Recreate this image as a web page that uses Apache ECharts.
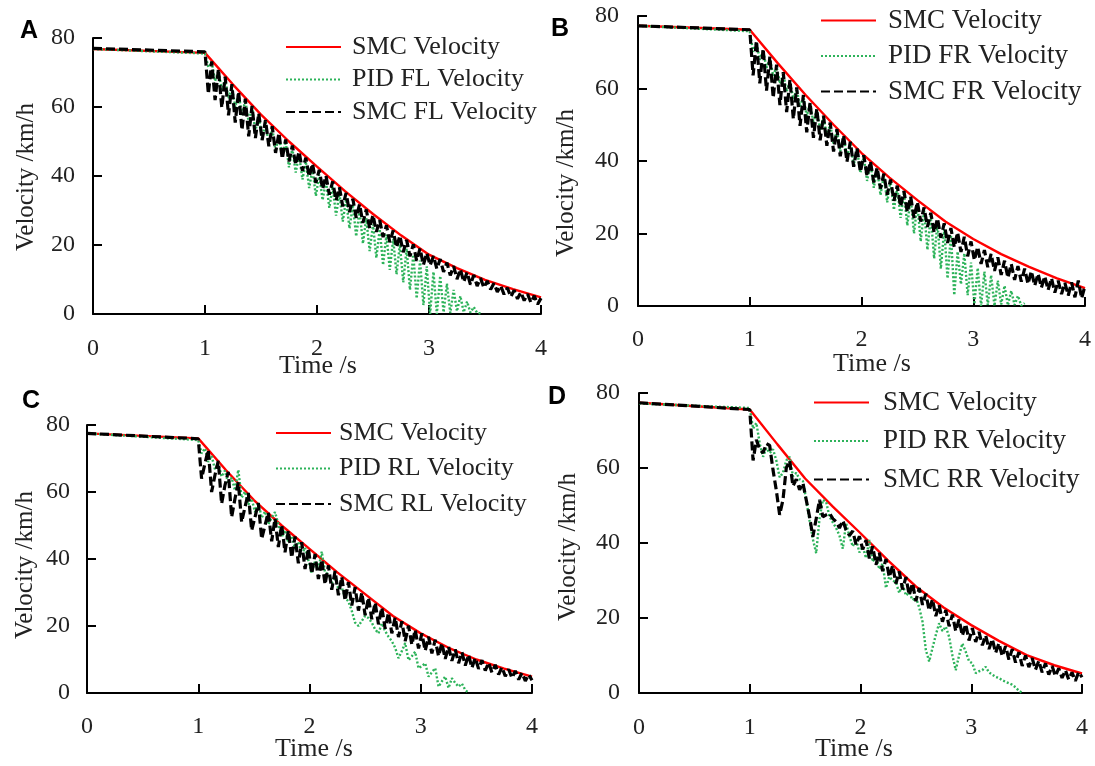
<!DOCTYPE html>
<html>
<head>
<meta charset="utf-8">
<script src="https://cdn.jsdelivr.net/npm/echarts@6/dist/echarts.min.js"></script>
<style>
  html, body { margin: 0; background: #fff; }
  #chart { width: 1095px; height: 766px; }
</style>
</head>
<body>
<div id="chart"></div>
<script>
// time (s) for the smooth reference curve
const timeRed = [0, 1, 1.25, 1.5, 1.75, 2, 2.25, 2.5, 2.75, 3, 3.25, 3.5, 3.75, 4];
// time (s) for the wheel curves (PID curves use the first part only)
const timeWheel = [0, 1.00, 1.03, 1.06, 1.09, 1.12, 1.15, 1.18, 1.21, 1.24, 1.27, 1.30, 1.33, 1.36, 1.39, 1.42, 1.45, 1.48,
  1.51, 1.54, 1.57, 1.60, 1.63, 1.66, 1.69, 1.72, 1.75, 1.78, 1.81, 1.84, 1.87, 1.90, 1.93, 1.96, 1.99, 2.02, 2.05, 2.08,
  2.11, 2.14, 2.17, 2.20, 2.23, 2.26, 2.29, 2.32, 2.35, 2.38, 2.41, 2.44, 2.47, 2.50, 2.53, 2.56, 2.59, 2.62, 2.65, 2.68,
  2.71, 2.74, 2.77, 2.80, 2.83, 2.86, 2.89, 2.92, 2.95, 2.98, 3.01, 3.04, 3.07, 3.10, 3.13, 3.16, 3.19, 3.22, 3.25, 3.28,
  3.31, 3.34, 3.37, 3.40, 3.43, 3.46, 3.49, 3.52, 3.55, 3.58, 3.61, 3.64, 3.67, 3.70, 3.73, 3.76, 3.79, 3.82, 3.85, 3.88,
  3.91, 3.94, 3.97, 4.00];
const yTicks = [0, 20, 40, 60, 80];
const xTicks = [0, 1, 2, 3, 4];

// A - front left
const smcA = [76.8, 75.7, 66.5, 57.8, 50, 42.7, 35.6, 29, 22.8, 17.2, 13.3, 9.9, 7.2, 4.8];
const pidFL = [76.8,
  75.5, 71.5, 73.0, 67.5, 70.5, 65.0, 68.0, 62.5, 66.0, 60.0,
  64.0, 57.5, 62.0, 55.5, 60.0, 53.0, 57.6, 50.3, 56.0, 48.8,
  54.0, 47.1, 52.0, 45.3, 50.0, 42.5, 48.0, 41.0, 46.2, 39.0,
  44.2, 36.5, 42.0, 34.2, 40.4, 33.0, 38.6, 30.8, 37.0, 28.5,
  35.0, 26.8, 33.2, 24.8, 31.6, 22.5, 30.0, 20.4, 27.8, 18.2,
  26.0, 16.3, 24.6, 14.2, 23.0, 12.8, 21.8, 11.5, 20.2, 9.2,
  19.0, 7.0, 17.2, 4.5, 15.5, 2.6, 13.8, 0.0, 12.2, 0.0,
  11.0, 0.5, 8.8, 0.3, 7.0, 0.8, 5.2, 0.5, 3.6, 0.4,
  2.0, 0.3, 0.2];
const smcFL = [77.0,
  76.0, 63.8, 73.2, 62.0, 71.0, 59.8, 68.8, 57.6, 66.6, 55.5,
  64.5, 53.3, 62.4, 51.5, 60.3, 51.0, 58.2, 50.4, 56.2, 48.6,
  54.4, 46.7, 52.5, 45.0, 50.6, 44.2, 48.8, 43.3, 47.1, 41.5,
  45.3, 39.8, 43.6, 38.0, 41.8, 36.3, 40.1, 34.6, 38.4, 32.9,
  36.7, 31.2, 35.1, 29.5, 33.4, 27.9, 31.8, 26.4, 30.3, 24.8,
  28.7, 23.8, 27.2, 22.3, 25.7, 20.8, 24.2, 19.3, 22.7, 17.9,
  21.5, 16.7, 20.2, 15.4, 19.0, 14.2, 17.7, 14.1, 16.8, 13.1,
  15.9, 12.2, 14.9, 11.2, 13.9, 10.1, 13.0, 9.3, 12.1, 8.5,
  11.3, 8.1, 10.4, 7.6, 9.6, 7.1, 8.9, 6.4, 8.2, 5.7,
  7.6, 5.0, 6.9, 4.4, 6.3, 3.9, 5.8, 3.3, 5.3, 2.8,
  4.6];

// B - front right
const smcB = [77.3, 76.2, 67, 58.2, 50, 42.2, 35.4, 29.2, 23.3, 18.5, 14.3, 10.8, 7.6, 4.9];
const pidFR = [77.3,
  75.8, 70.1, 72.7, 67.9, 70.5, 65.7, 68.3, 63.5, 66.1, 61.3,
  64.0, 59.2, 61.9, 57.1, 59.8, 55.0, 57.7, 52.4, 56.0, 50.4,
  54.2, 48.4, 52.3, 46.5, 50.4, 44.5, 48.6, 42.7, 46.9, 40.7,
  45.1, 38.8, 43.4, 36.7, 41.3, 34.5, 39.6, 32.6, 37.9, 30.6,
  36.2, 28.6, 34.5, 26.5, 32.8, 24.3, 31.3, 22.2, 29.9, 20.0,
  28.2, 17.8, 26.5, 15.5, 24.8, 13.1, 23.0, 10.3, 21.2, 7.6,
  19.6, 3.0, 15.0, 6.0, 14.5, 3.0, 12.0, 0.5, 10.5, 0.0,
  9.5, 0.3, 8.5, 0.0, 7.0, 0.4, 5.6, 0.2, 4.2, 0.3,
  2.8, 0.1, 0.8];
const smcFR = [77.3,
  76.2, 63.6, 73.2, 61.4, 71.0, 59.4, 68.8, 57.4, 66.6, 55.4,
  64.5, 53.5, 62.4, 51.6, 60.3, 49.7, 58.2, 47.9, 56.2, 46.4,
  54.4, 45.7, 52.5, 44.2, 50.6, 42.6, 48.8, 41.3, 47.1, 39.8,
  45.3, 38.4, 43.6, 37.0, 41.6, 35.8, 39.9, 34.1, 38.2, 32.4,
  36.5, 30.7, 34.9, 29.0, 33.2, 27.4, 31.7, 25.9, 30.2, 24.3,
  28.7, 23.3, 27.2, 21.8, 25.7, 20.3, 24.2, 18.8, 22.8, 17.4,
  21.5, 16.2, 20.3, 14.9, 19.1, 13.7, 17.8, 12.6, 16.3, 11.6,
  15.4, 10.7, 14.4, 9.7, 13.4, 8.6, 12.5, 7.8, 11.6, 7.2,
  11.0, 6.7, 10.3, 6.1, 9.6, 5.6, 8.9, 5.1, 8.2, 4.4,
  7.7, 3.7, 7.0, 3.3, 6.4, 2.9, 6.5, 2.4, 7.0, 2.1,
  5.6];

// C - rear left
const smcC = [77.5, 76, 66.5, 57.6, 50, 43, 36, 29.5, 23, 17.8, 13.5, 10, 7.3, 4.9];
const pidRL = [77.5,
  75.5, 71.5, 73.0, 69.0, 70.8, 66.8, 68.6, 64.6, 66.4, 62.5,
  64.3, 60.5, 66.6, 58.3, 60.1, 56.2, 58.0, 54.0, 57.0, 52.3,
  54.2, 50.4, 52.3, 54.0, 50.4, 46.6, 48.6, 44.9, 46.9, 43.1,
  45.1, 41.4, 43.4, 39.6, 35.8, 39.5, 37.0, 42.2, 36.0, 35.5,
  32.8, 34.5, 31.0, 31.5, 28.5, 27.3, 24.5, 21.0, 20.0, 21.5,
  23.0, 22.4, 21.0, 19.0, 17.8, 20.8, 18.5, 16.8, 15.5, 13.5,
  10.4, 12.5, 14.9, 9.8, 11.0, 12.3, 7.4, 8.0, 8.9, 4.9,
  6.2, 7.4, 1.9, 3.5, 4.9, 1.5, 4.4, 3.0, 1.9, 2.8,
  0.9, 0.0];
const smcRL = [77.5,
  75.9, 64.0, 68.5, 72.6, 60.0, 65.0, 69.3, 56.5, 62.0, 66.0,
  52.5, 58.0, 62.9, 51.0, 55.5, 59.7, 48.5, 52.5, 56.7, 46.0,
  50.0, 53.9, 45.3, 52.1, 43.6, 50.2, 42.0, 48.5, 40.4, 46.7,
  38.7, 45.0, 37.0, 43.2, 35.6, 41.5, 34.0, 39.8, 32.4, 38.1,
  30.8, 36.4, 29.2, 34.7, 27.6, 33.1, 26.1, 31.6, 24.6, 30.0,
  23.2, 28.5, 22.0, 27.0, 20.5, 25.5, 19.2, 24.0, 17.8, 22.6,
  16.7, 21.4, 15.5, 20.1, 14.4, 18.9, 13.3, 17.8, 12.6, 16.8,
  11.8, 15.9, 11.0, 14.9, 10.2, 13.8, 9.6, 13.0, 8.9, 12.2,
  8.2, 11.4, 7.5, 10.5, 7.2, 9.8, 6.7, 9.1, 6.1, 8.4,
  5.5, 7.7, 5.0, 7.1, 4.5, 6.6, 4.0, 6.0, 3.6, 5.5,
  3.8];

// D - rear right
const smcD = [77.4, 75.6, 66.3, 57.2, 49.7, 42.6, 35.3, 28.4, 22.8, 18.1, 13.9, 10.1, 7.4, 5.2];
const pidRR = [77.2,
  76.0, 70.5, 72.0, 66.5, 63.0, 65.3, 64.0, 65.0, 62.0, 57.5,
  58.7, 62.0, 63.0, 57.8, 58.7, 57.0, 56.5, 51.5, 46.0, 41.0,
  37.3, 46.5, 51.5, 51.0, 47.0, 45.5, 44.0, 42.0, 38.5, 45.3,
  41.8, 39.1, 41.0, 37.5, 39.0, 36.0, 40.8, 35.0, 36.5, 33.0,
  34.5, 28.0, 31.0, 30.0, 29.5, 26.7, 29.0, 26.0, 26.8, 24.8,
  25.5, 22.8, 19.0, 11.5, 8.4, 12.0, 15.5, 18.6, 16.5, 17.7,
  15.0, 10.0, 6.1, 10.0, 13.2, 11.0, 8.5, 7.9, 5.3, 5.8,
  6.1, 7.0, 5.5, 4.9, 4.3, 4.0, 3.4, 3.0, 2.6, 2.2,
  1.5, 0.6, 0.0];
const smcRR = [77.4,
  75.6, 62.0, 67.5, 65.0, 64.0, 66.5, 66.0, 59.5, 54.0, 47.5,
  51.5, 60.0, 62.0, 55.2, 57.0, 54.2, 56.0, 51.5, 47.0, 41.7,
  46.5, 51.5, 47.0, 47.5, 47.9, 46.5, 45.7, 44.0, 46.0, 43.5,
  42.0, 43.2, 39.5, 41.8, 38.3, 40.8, 35.9, 39.1, 34.2, 37.4,
  32.5, 35.7, 30.9, 34.0, 29.2, 32.4, 27.6, 30.9, 26.1, 29.3,
  24.5, 28.0, 23.5, 26.5, 22.0, 25.0, 20.5, 23.5, 19.0, 22.1,
  17.8, 20.9, 16.5, 19.6, 15.3, 18.4, 14.0, 17.3, 13.6, 16.3,
  12.7, 15.4, 11.7, 14.4, 10.7, 13.3, 9.8, 12.5, 8.9, 11.7,
  8.1, 10.9, 7.2, 10.0, 6.9, 9.3, 6.2, 8.6, 5.5, 7.9,
  4.9, 7.2, 4.5, 6.6, 4.0, 6.1, 3.6, 5.5, 3.2, 5.6,
  4.2];

const serif = '"Liberation Serif", "Times New Roman", serif';
const zip = (ts, vs) => vs.map((v, i) => [ts[i], v]);

const panels = [
  { letter: 'A', wheel: 'FL', smc: smcA, pid: pidFL, wheelSmc: smcFL,
    grid: { left: 93, top: 38, width: 448, height: 276 }, xMargin: 23, yMargin: 18,
    legend: { left: 280, top: 29, gap: 6.5, pad: 6, size: 26 },
    letterPos: [29, 31], yNamePos: [26, 177], xNamePos: [318, 366] },
  { letter: 'B', wheel: 'FR', smc: smcB, pid: pidFR, wheelSmc: smcFR,
    grid: { left: 638, top: 16, width: 447, height: 290 }, xMargin: 22, yMargin: 19,
    legend: { left: 815, top: 2, gap: 8.5, pad: 7, size: 27 },
    letterPos: [560, 29], yNamePos: [566, 183], xNamePos: [872, 364] },
  { letter: 'C', wheel: 'RL', smc: smcC, pid: pidRL, wheelSmc: smcRL,
    grid: { left: 87, top: 425, width: 445, height: 268 }, xMargin: 22, yMargin: 17,
    legend: { left: 270, top: 415, gap: 9.5, pad: 3, size: 26 },
    letterPos: [31, 401], yNamePos: [25, 565], xNamePos: [314, 749] },
  { letter: 'D', wheel: 'RR', smc: smcD, pid: pidRR, wheelSmc: smcRR,
    grid: { left: 639, top: 393, width: 443, height: 300 }, xMargin: 23, yMargin: 19,
    legend: { left: 808, top: 384, gap: 11.5, pad: 9, size: 27 },
    letterPos: [557, 397], yNamePos: [568, 547], xNamePos: [854, 749] },
];

const axisLine = { show: true, lineStyle: { color: '#000', width: 2 } };
const axisTick = { show: true, inside: true, length: 9, lineStyle: { color: '#000', width: 2 } };

const option = {
  animation: false,
  backgroundColor: '#fff',
  grid: panels.map(p => p.grid),
  xAxis: panels.map((p, i) => ({
    type: 'value', gridIndex: i, min: xTicks[0], max: xTicks[xTicks.length - 1], interval: 1,
    axisLine, axisTick, splitLine: { show: false },
    axisLabel: { fontFamily: serif, fontSize: 24, color: '#222', margin: p.xMargin },
  })),
  yAxis: panels.map((p, i) => ({
    type: 'value', gridIndex: i, min: yTicks[0], max: yTicks[yTicks.length - 1], interval: 20,
    axisLine, axisTick, splitLine: { show: false },
    axisLabel: { fontFamily: serif, fontSize: 24, color: '#222', margin: p.yMargin },
  })),
  legend: panels.map(p => ({
    orient: 'vertical', left: p.legend.left, top: p.legend.top, itemGap: p.legend.gap,
    itemWidth: 55, itemHeight: 14, selectedMode: false,
    itemStyle: { opacity: 0 },
    data: ['SMC Velocity', 'PID ' + p.wheel + ' Velocity', 'SMC ' + p.wheel + ' Velocity'],
    textStyle: { fontFamily: serif, fontSize: p.legend.size, lineHeight: p.legend.size,
      color: '#222', padding: [0, 0, 0, p.legend.pad] },
  })),
  series: panels.flatMap((p, i) => [
    { type: 'line', name: 'SMC Velocity', xAxisIndex: i, yAxisIndex: i, symbol: 'none',
      data: zip(timeRed, p.smc), itemStyle: { color: '#ff0000' },
      lineStyle: { color: '#ff0000', width: 2.4 } },
    { type: 'line', name: 'PID ' + p.wheel + ' Velocity', xAxisIndex: i, yAxisIndex: i, symbol: 'none',
      data: zip(timeWheel, p.pid), itemStyle: { color: '#2db35a' },
      lineStyle: { color: '#2db35a', width: 2.4, type: [2, 2] } },
    { type: 'line', name: 'SMC ' + p.wheel + ' Velocity', xAxisIndex: i, yAxisIndex: i, symbol: 'none',
      data: zip(timeWheel, p.wheelSmc), itemStyle: { color: '#000' },
      lineStyle: { color: '#000', width: 3.2, type: [9, 4] } },
  ]),
  graphic: panels.flatMap(p => [
    { type: 'text', x: p.letterPos[0], y: p.letterPos[1],
      style: { text: p.letter, font: 'bold 25px "Liberation Sans", Arial, sans-serif', fill: '#000',
        align: 'center', verticalAlign: 'middle' } },
    { type: 'text', x: p.yNamePos[0], y: p.yNamePos[1], rotation: Math.PI / 2,
      style: { text: 'Velocity /km/h', font: '25px ' + serif, fill: '#222',
        align: 'center', verticalAlign: 'middle' } },
    { type: 'text', x: p.xNamePos[0], y: p.xNamePos[1],
      style: { text: 'Time /s', font: '26px ' + serif, fill: '#222',
        align: 'center', verticalAlign: 'middle' } },
  ]),
};

const chart = echarts.init(document.getElementById('chart'), null, { renderer: 'canvas' });
chart.setOption(option);
</script>
</body>
</html>
